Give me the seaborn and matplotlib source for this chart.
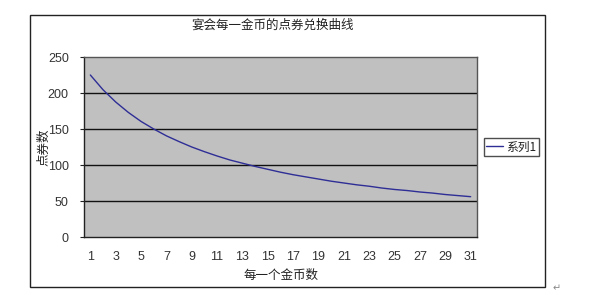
import matplotlib
matplotlib.use("Agg")
import matplotlib.pyplot as plt
from matplotlib.patches import Rectangle
import seaborn as sns
import pandas as pd

# ---- data ----
gold_coins = list(range(1, 32))
points = [225, 204.5, 187.5, 173, 160.5, 150, 140.5, 132.5, 125, 118.5,
          112.5, 107, 102.5, 98, 94, 90, 86.5, 83.5, 80.5, 77.5,
          75, 72.5, 70.5, 68, 66, 64.5, 62.5, 61, 59, 57.5, 56]
series_name = "系列1"
title = "宴会每一金币的点券兑换曲线"
x_label = "每一个金币数"
y_label = "点券数"
y_ticks = [0, 50, 100, 150, 200, 250]
x_tick_labels = [str(v) for v in range(1, 32, 2)]

df = pd.DataFrame({"x": gold_coins, "y": points, "s": series_name})

sns.set_theme(style="white")
plt.rcParams["font.family"] = ["Noto Sans CJK SC", "DejaVu Sans"]

W, H = 600, 304
fig = plt.figure(figsize=(6.0, 3.04), dpi=100)
fig.patch.set_facecolor("white")

# outer chart frame
fig.patches.append(Rectangle((30 / W, 1 - 287 / H), (545 - 30) / W, (287 - 15) / H,
                             transform=fig.transFigure, fill=False,
                             edgecolor="#222222", linewidth=1.0, zorder=0))

ax = fig.add_axes([84 / W, 1 - 237 / H, (477 - 84) / W, (237 - 57) / H])
ax.set_facecolor("#c0c0c0")

sns.lineplot(data=df, x="x", y="y", hue="s", palette=["#2e2e96"],
             linewidth=1.0, ax=ax, legend=True)

ax.set_xlim(0.5, 31.5)
ax.set_ylim(0, 250)
ax.set_yticks(y_ticks)
ax.set_yticklabels([str(v) for v in y_ticks], fontsize=9, color="#333333",
                   family=["Liberation Sans", "DejaVu Sans"])
ax.set_xticks(list(range(1, 32, 2)))
ax.set_xticklabels(x_tick_labels, fontsize=9, color="#333333",
                   family=["Liberation Sans", "DejaVu Sans"])
ax.set_xticks([v + 0.5 for v in range(0, 32)], minor=True)
ax.tick_params(axis="x", which="major", length=0, pad=10)
ax.tick_params(axis="x", which="minor", length=3, direction="in",
               color="#222222", width=0.8)
ax.tick_params(axis="y", which="major", length=3, direction="out",
               color="#222222", width=0.8, pad=8, left=True)

for yv in y_ticks[1:-1]:
    ax.axhline(yv, color="#111111", linewidth=1.0, zorder=1)

for side, sp in ax.spines.items():
    sp.set_color("#555555")
    sp.set_linewidth(1.0)
ax.spines["bottom"].set_color("#222222")
ax.spines["left"].set_color("#222222")

ax.set_xlabel(x_label, fontsize=9, color="#222222", labelpad=4)
ax.set_ylabel(y_label, fontsize=9, color="#222222")
ax.yaxis.set_label_coords((50 - 84) / 393, 0.5)

fig.text(273 / W, 1 - 25 / H, title, ha="center", va="center",
         fontsize=9, color="#222222")

leg = ax.legend(loc="center left", bbox_to_anchor=(484 / W, 1 - 147 / H),
                bbox_transform=fig.transFigure, fontsize=8.5, frameon=True,
                fancybox=False, borderpad=0.2, handlelength=1.4,
                handletextpad=0.3, borderaxespad=0)
leg.get_frame().set_edgecolor("#222222")
leg.get_frame().set_linewidth(1.0)
for t in leg.get_texts():
    t.set_color("#222222")

fig.text(553 / W, 1 - 288 / H, "↵", ha="left", va="center", fontsize=7,
         color="#888888", family=["DejaVu Sans"])

fig.savefig("out.png", dpi=100)
